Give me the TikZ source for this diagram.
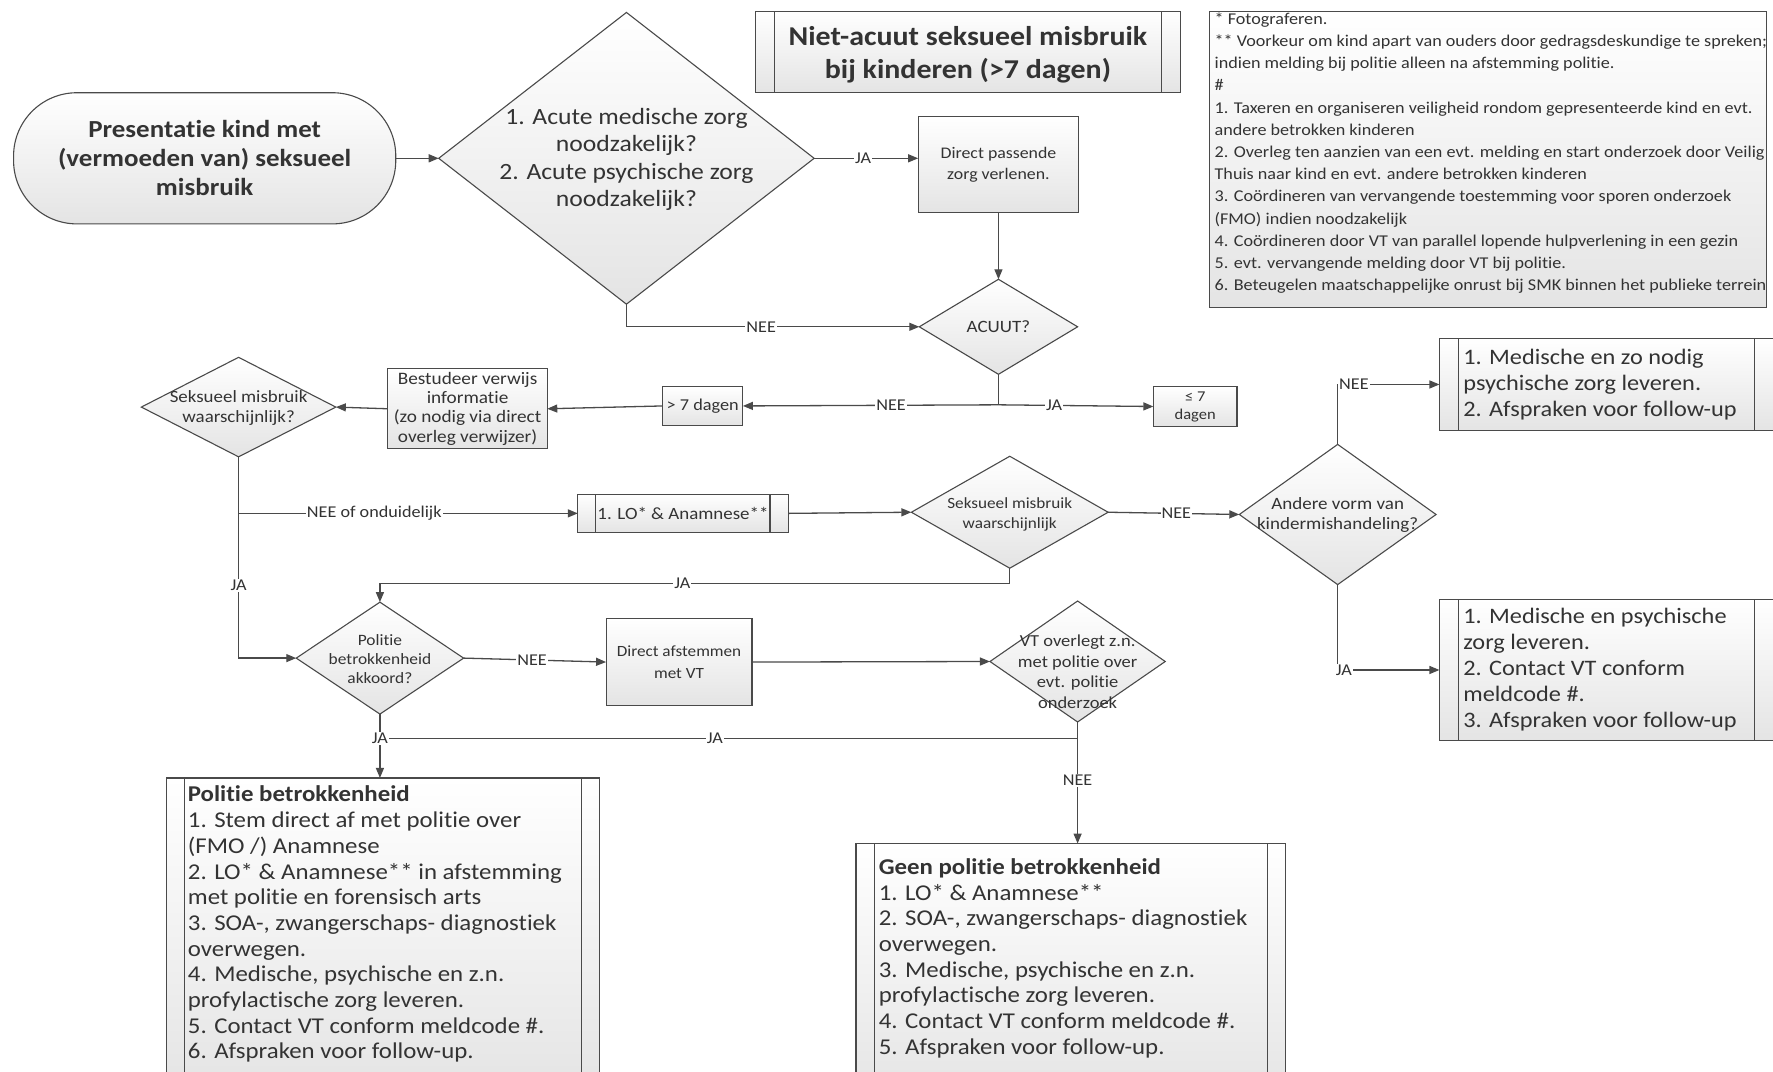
\documentclass[tikz,border=0pt]{standalone}
\usepackage{fontspec}
\setmainfont{Carlito}[FakeStretch=1.1, Ligatures=NoCommon]
\usetikzlibrary{shapes.geometric,arrows.meta,calc}
\newlength{\upx}\setlength{\upx}{1.1307pt}
\definecolor{ln}{HTML}{4A4A4A}
\definecolor{tx}{HTML}{333333}
\definecolor{fillb}{HTML}{E4E4E4}
\begin{document}
\begin{tikzpicture}[x=1.1307pt,y=-1.1307pt,
  base/.style={draw=ln, line width=1.1pt, top color=white, bottom color=fillb, text=tx, inner sep=1pt, outer sep=0pt, align=center},
  box/.style={base, rectangle},
  proc/.style={base, rectangle, path picture={\draw[ln, line width=1.1pt]
     ([xshift=#1]path picture bounding box.north west) -- ([xshift=#1]path picture bounding box.south west)
     ([xshift=-#1]path picture bounding box.north east) -- ([xshift=-#1]path picture bounding box.south east);}},
  dia/.style={base, diamond, inner sep=0pt},
  txt/.style={text=tx, inner sep=0pt, align=center},
  conn/.style={draw=ln, line width=1.3pt},
  arr/.style={conn, -{Triangle[length=10pt,width=8pt]}},
  lbl/.style={fill=white, inner sep=1pt, text=tx, font=\fontsize{16.5}{18}\selectfont},
  fs/.style 2 args={font=\fontsize{#1}{#2}\selectfont}]
\useasboundingbox[fill=white] (0,0) rectangle (1568,948);

% nodes
\node[box, rounded corners=56\upx, minimum width=338\upx, minimum height=116\upx, font=\fontsize{24.5}{29}\selectfont\bfseries] (start) at (181,140) {Presentatie kind met\\(vermoeden van) seksueel\\misbruik};

\node[dia, minimum width=332\upx, minimum height=258\upx] (d1) at (554,140) {};
\node[txt, fs={23.3}{27.5}] (d1t) at (554,141) {1. Acute medische zorg\\noodzakelijk?\\2. Acute psychische zorg\\noodzakelijk?};

\node[proc=17\upx, minimum width=376\upx, minimum height=72\upx] (title) at (856,46) {};
\node[txt, font=\fontsize{27.2}{33}\selectfont\bfseries] (titlet) at (856,48) {Niet-acuut seksueel misbruik\\bij kinderen (>7 dagen)};

\node[box, minimum width=492\upx, minimum height=262\upx] (notes) at (1316,141) {};
\node[txt, anchor=north west, align=left, fs={16.5}{22.2}] (notest) at (1074,11) {* Fotograferen.\\
** Voorkeur om kind apart van ouders door gedragsdeskundige te spreken;\\
indien melding bij politie alleen na afstemming politie.\\
\#\\
1. Taxeren en organiseren veiligheid rondom gepresenteerde kind en evt.\\
andere betrokken kinderen\\
2. Overleg ten aanzien van een evt. melding en start onderzoek door Veilig\\
Thuis naar kind en evt. andere betrokken kinderen\\
3. Coördineren van vervangende toestemming voor sporen onderzoek\\
(FMO) indien noodzakelijk\\
4. Coördineren door VT van parallel lopende hulpverlening in een gezin\\
5. evt. vervangende melding door VT bij politie.\\
6. Beteugelen maatschappelijke onrust bij SMK binnen het publieke terrein};

\node[box, minimum width=142\upx, minimum height=85\upx, fs={16.2}{21.5}] (direct) at (883,145.5) {Direct passende\\zorg verlenen.};
\node[dia, minimum width=140\upx, minimum height=84\upx] (acuut) at (883,289) {};
\node[txt, fs={17.3}{19}] (acuutt) at (883,289) {ACUUT?};
\coordinate (jA) at (883,358);
\node[box, minimum width=71\upx, minimum height=34\upx, fs={16.6}{19}] (gt7) at (621.5,359) {> 7 dagen};
\node[box, minimum width=74\upx, minimum height=35\upx, fs={15}{18}] (le7) at (1057,359.5) {≤ 7\\dagen};
\node[box, minimum width=141\upx, minimum height=71\upx, fs={17.5}{19.2}] (best) at (413.5,361.5) {Bestudeer verwijs\\informatie\\(zo nodig via direct\\overleg verwijzer)};

\node[dia, minimum width=172\upx, minimum height=88\upx] (dsm1) at (211,360) {};
\node[txt, fs={17.2}{20}] (dsm1t) at (211,361) {Seksueel misbruik\\waarschijnlijk?};
\coordinate (jS) at (211,454);
\node[proc=16\upx, minimum width=186\upx, minimum height=34\upx, fs={17.2}{20}] (lo) at (604,454) {1. LO* \& Anamnese**};
\node[dia, minimum width=174\upx, minimum height=99\upx] (dsm2) at (893,453) {};
\node[txt, fs={15.6}{20}] (dsm2t) at (893,455) {Seksueel misbruik\\waarschijnlijk};
\node[dia, minimum width=174\upx, minimum height=124\upx] (dand) at (1183,455) {};
\node[txt, fs={17.3}{20}] (dandt) at (1183,455) {Andere vorm van\\kindermishandeling?};

\node[proc=17\upx, minimum width=296\upx, minimum height=82\upx] (r1) at (1421,340) {};
\node[txt, anchor=west, align=left, fs={22.1}{26}] (r1t) at (1294,340) {1. Medische en zo nodig\\psychische zorg leveren.\\2. Afspraken voor follow-up};
\node[proc=17\upx, minimum width=296\upx, minimum height=125\upx] (r2) at (1421,592.5) {};
\node[txt, anchor=west, align=left, fs={22.1}{26}] (r2t) at (1294,592) {1. Medische en psychische\\zorg leveren.\\2. Contact VT conform\\meldcode \#.\\3. Afspraken voor follow-up};

\coordinate (jJ) at (893,516);
\node[dia, minimum width=148\upx, minimum height=99\upx] (pol) at (336,582) {};
\node[txt, fs={15.8}{19}] (polt) at (336,583) {Politie\\betrokkenheid\\akkoord?};
\node[box, minimum width=129\upx, minimum height=77\upx, fs={15.6}{21.5}] (afst) at (600.5,585.5) {Direct afstemmen\\met VT};
\node[dia, minimum width=155\upx, minimum height=107\upx] (d4) at (953,585) {};
\node[txt, fs={16.8}{20.4}] (d4t) at (953,594) {VT overlegt z.n.\\met politie over\\evt. politie\\onderzoek};
\coordinate (jV) at (953,653);
\coordinate (jP) at (336,653);

\node[proc=16\upx, minimum width=383\upx, minimum height=280\upx, anchor=north] (polbox) at (338.5,688) {};
\node[txt, anchor=north west, align=left, fs={22.6}{25.7}] (polboxt) at (166,695) {\textbf{Politie betrokkenheid}\\
1. Stem direct af met politie over\\
(FMO /) Anamnese\\
2. LO* \& Anamnese** in afstemming\\
met politie en forensisch arts\\
3. SOA-, zwangerschaps- diagnostiek\\
overwegen.\\
4. Medische, psychische en z.n.\\
profylactische zorg leveren.\\
5. Contact VT conform meldcode \#.\\
6. Afspraken voor follow-up.};

\node[proc=16\upx, minimum width=380\upx, minimum height=230\upx, anchor=north] (geen) at (947,746) {};
\node[txt, anchor=north west, align=left, fs={22.6}{25.7}] (geent) at (777,759) {\textbf{Geen politie betrokkenheid}\\
1. LO* \& Anamnese**\\
2. SOA-, zwangerschaps- diagnostiek\\
overwegen.\\
3. Medische, psychische en z.n.\\
profylactische zorg leveren.\\
4. Contact VT conform meldcode \#.\\
5. Afspraken voor follow-up.};

% connectors
\draw[arr] (start.east) -- (d1.west);
\draw[arr] (d1.east) -- node[lbl, pos=0.47] (l1) {JA} (d1.east -| direct.west);
\draw[arr] (direct.south) -- (acuut.north);
\draw[arr] (d1.south) |- node[lbl, pos=0.73] (l2) {NEE} (acuut.west);
\draw[conn] (acuut.south) -- (jA);
\draw[arr] (jA) -- node[lbl, pos=0.42] (l3) {NEE} (gt7.east);
\draw[arr] (jA) -- node[lbl, pos=0.36] (l4) {JA} (le7.west);
\draw[arr] (gt7.west) -- (best.east);
\draw[arr] (best.west) -- (dsm1.east);
\draw[conn] (dsm1.south) -- (jS);
\draw[arr] (jS) -- node[lbl, pos=0.40] (l5) {NEE of onduidelijk} (lo.west);
\draw[arr] (jS) |- node[lbl, pos=0.25] (l6) {JA} (pol.west);
\draw[arr] (lo.east) -- (dsm2.west);
\draw[arr] (dsm2.east) -- node[lbl, pos=0.52] (l7) {NEE} (dand.west);
\draw[arr] (dand.north) |- node[lbl, pos=0.58] (l8) {NEE} (r1.west);
\draw[arr] (dand.south) |- node[lbl, pos=0.53] (l9) {JA} (r2.west);
\draw[arr] (dsm2.south) -- (jJ) -| node[lbl, pos=0.26] (l10) {JA} (pol.north);
\draw[arr] (pol.east) -- node[lbl, pos=0.48] (l11) {NEE} (afst.west);
\draw[arr] (afst.east) -- (d4.west);
\draw[conn] (jV) -- node[lbl, pos=0.52] (l12) {JA} (jP);
\draw[arr] (pol.south) -- node[lbl, pos=0.38] (l13) {JA} (pol.south |- polbox.north);
\draw[arr] (d4.south) -- node[lbl, pos=0.48] (l14) {NEE} (d4.south |- geen.north);
\end{tikzpicture}
\end{document}
